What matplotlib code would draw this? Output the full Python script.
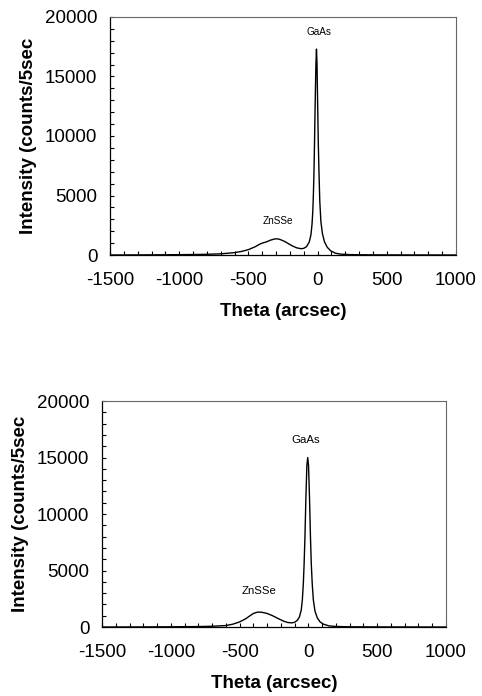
import matplotlib
matplotlib.use("Agg")
import matplotlib.pyplot as plt
from matplotlib.ticker import MultipleLocator

plt.rcParams['font.family'] = ['Liberation Sans', 'DejaVu Sans']
plt.rcParams['axes.unicode_minus'] = False

# Top panel data
theta_top = [-1500, -1300, -1100, -900, -800, -700, -600, -550, -500, -450, -420, -400,
             -370, -340, -310, -290, -270, -240, -210, -180, -150, -120, -100, -80,
             -60, -48, -40, -34, -30, -26, -22, -17, -12, -8, -4, 0, 5, 10, 16, 24,
             35, 50, 70, 95, 130, 170, 220, 300, 500, 700, 1000]
int_top = [0, 10, 20, 40, 60, 100, 200, 300, 450, 700, 900, 1000,
           1100, 1250, 1350, 1360, 1300, 1150, 950, 750, 600, 530, 560, 700,
           1100, 1700, 2600, 3800, 5200, 7000, 9500, 13000, 16000, 17300, 16000, 13000, 9500, 7000, 4500, 2800,
           1800, 1100, 650, 350, 150, 70, 40, 20, 10, 5, 0]

# Bottom panel data
theta_bot = [-1500, -1200, -1000, -800, -700, -600, -550, -500, -460, -430, -400,
             -370, -340, -300, -260, -220, -180, -150, -120, -100, -80, -65, -52,
             -44, -37, -31, -25, -18, -11, -5, 1, 8, 15, 21, 28, 36, 48, 65, 85,
             110, 150, 200, 300, 500, 1000]
int_bot = [0, 10, 20, 40, 70, 130, 250, 450, 700, 950, 1200,
           1320, 1310, 1200, 1000, 750, 520, 400, 370, 420, 600, 900, 1500,
           2400, 3800, 5600, 8000, 11500, 14300, 15000, 14300, 11500, 8000, 5600, 3800, 2400, 1400, 800, 450,
           250, 100, 50, 20, 10, 0]

xticks = [-1500, -1000, -500, 0, 500, 1000]
yticks = [0, 5000, 10000, 15000, 20000]

labels_top = [("GaAs", 10, 18700, 7.2), ("ZnSSe", -286, 2880, 7.2)]
labels_bot = [("GaAs", -20, 16560, 8.2), ("ZnSSe", -359, 3200, 8.2)]

fig = plt.figure(figsize=(4.82, 6.96), dpi=100)
ax1 = fig.add_axes([0.2282, 0.6336, 0.7178, 0.342])
ax2 = fig.add_axes([0.2116, 0.0991, 0.7137, 0.3247])

for ax, x, y, labs in [(ax1, theta_top, int_top, labels_top), (ax2, theta_bot, int_bot, labels_bot)]:
    ax.plot(x, y, color='black', lw=1.0)
    ax.set_xlim(-1500, 1000)
    ax.set_ylim(0, 20000)
    ax.set_xticks(xticks)
    ax.set_yticks(yticks)
    ax.xaxis.set_minor_locator(MultipleLocator(100))
    ax.yaxis.set_minor_locator(MultipleLocator(1000))
    ax.tick_params(which='both', direction='in', length=3, width=0.8, top=False, right=False)
    ax.tick_params(axis='x', which='major', labelsize=13.5, pad=12)
    ax.tick_params(axis='y', which='major', labelsize=13.5, pad=9)
    for s in ['top', 'right']:
        ax.spines[s].set_color('#666666')
        ax.spines[s].set_linewidth(0.8)
    for s in ['left', 'bottom']:
        ax.spines[s].set_color('black')
        ax.spines[s].set_linewidth(0.9)
    ax.set_xlabel("Theta (arcsec)", fontsize=13.5, fontweight='bold', labelpad=10)
    ax.set_ylabel("Intensity (counts/5sec", fontsize=13.5, fontweight='bold', labelpad=6)
    for txt, tx, ty, fs in labs:
        ax.text(tx, ty, txt, fontsize=fs, ha='center', va='center')

fig.savefig("out.png", dpi=100)
